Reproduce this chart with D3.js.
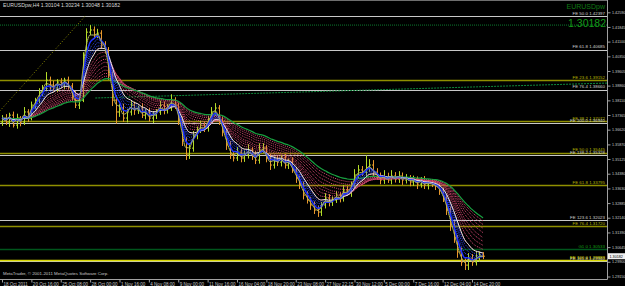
<!DOCTYPE html>
<html>
<head>
<meta charset="utf-8">
<script src="https://cdn.jsdelivr.net/npm/d3@7"></script>
<style>
  html, body { margin: 0; padding: 0; background: #000; }
  svg { display: block; }
  text { font-family: "Liberation Sans", Arial, sans-serif; }
</style>
</head>
<body>
<div id="main"></div>
<script>
const ctx = {
    WIDTH: 625,
    HEIGHT: 286,
    RIGHT: 607.5,
    BOTTOM: 279.5,
};

// EURUSD H4, two bars merged per point (closes)
const closes = [
    1.3721, 1.3701, 1.3736, 1.3685, 1.3721, 1.3701, 1.3752, 1.3721, 1.3787, 1.3812,
    1.3853, 1.3874, 1.3914, 1.3889, 1.3874, 1.3904, 1.3889, 1.3914, 1.3884, 1.3838,
    1.3787, 1.3812, 1.4041, 1.4158, 1.4169, 1.4143, 1.4153, 1.4092, 1.4067, 1.3940,
    1.3812, 1.3752, 1.3772, 1.3721, 1.3752, 1.3787, 1.3762, 1.3772, 1.3736, 1.3752,
    1.3721, 1.3736, 1.3752, 1.3787, 1.3762, 1.3772, 1.3812, 1.3787, 1.3711, 1.3609,
    1.3533, 1.3568, 1.3635, 1.3660, 1.3685, 1.3670, 1.3711, 1.3752, 1.3772, 1.3711,
    1.3650, 1.3584, 1.3533, 1.3518, 1.3548, 1.3518, 1.3533, 1.3558, 1.3533, 1.3507,
    1.3558, 1.3568, 1.3518, 1.3482, 1.3507, 1.3497, 1.3518, 1.3482, 1.3497, 1.3457,
    1.3416, 1.3380, 1.3329, 1.3304, 1.3279, 1.3253, 1.3243, 1.3279, 1.3314, 1.3294,
    1.3304, 1.3329, 1.3314, 1.3355, 1.3345, 1.3380, 1.3431, 1.3457, 1.3446, 1.3467,
    1.3482, 1.3446, 1.3426, 1.3406, 1.3421, 1.3406, 1.3426, 1.3411, 1.3426, 1.3406,
    1.3416, 1.3396, 1.3406, 1.3385, 1.3401, 1.3380, 1.3391, 1.3385, 1.3375, 1.3355,
    1.3314, 1.3253, 1.3177, 1.3111, 1.3040, 1.2989, 1.2973, 1.3009, 1.2989, 1.3009,
    1.3024, 1.30182
];
const firstOpen = 1.3701;

// wick length above / below the body, in pips
const wickUp = [
    15, 20, 12, 18, 22, 10, 25, 14, 18, 12,
    20, 15, 41, 18, 22, 15, 20, 12, 18, 15,
    20, 14, 15, 20, 25, 18, 22, 15, 20, 15,
    18, 25, 20, 22, 15, 20, 18, 12, 25, 15,
    20, 18, 15, 22, 18, 20, 30, 15, 12, 18,
    15, 25, 20, 18, 22, 15, 20, 25, 25, 15,
    18, 12, 20, 15, 25, 18, 22, 30, 15, 20,
    35, 25, 15, 20, 18, 22, 15, 20, 18, 25,
    15, 12, 18, 20, 15, 18, 22, 15, 25, 20,
    18, 22, 15, 25, 20, 18, 30, 25, 20, 65,
    30, 25, 20, 18, 35, 22, 30, 20, 25, 18,
    20, 15, 22, 18, 20, 25, 15, 20, 18, 15,
    12, 15, 18, 20, 15, 22, 18, 25, 20, 30,
    18, 15
];
const wickDn = [
    20, 15, 25, 12, 18, 22, 15, 20, 12, 18,
    15, 20, 12, 25, 18, 20, 15, 22, 18, 25,
    15, 20, 10, 12, 15, 18, 15, 20, 18, 25,
    30, 60, 25, 20, 22, 18, 25, 20, 15, 22,
    18, 25, 20, 15, 22, 18, 15, 20, 25, 30,
    25, 20, 18, 22, 15, 20, 18, 15, 20, 25,
    22, 25, 20, 18, 15, 22, 20, 18, 25, 20,
    18, 15, 22, 25, 18, 20, 22, 18, 20, 15,
    25, 20, 22, 18, 25, 20, 25, 20, 18, 22,
    20, 15, 22, 18, 20, 25, 15, 18, 20, 22,
    20, 25, 18, 22, 20, 15, 22, 18, 20, 25,
    18, 22, 20, 25, 18, 20, 22, 15, 20, 25,
    20, 25, 30, 25, 30, 20, 25, 25, 20, 18,
    20, 15
];

const dateIdx = [0, 8, 16, 24, 32, 40, 48, 56, 64, 72, 80, 88, 96, 104, 112, 120, 128];
const dateLabels = [
    "18 Oct 2011", "20 Oct 16:00", "25 Oct 08:00", "28 Oct 00:00", "1 Nov 16:00",
    "4 Nov 08:00", "9 Nov 00:00", "11 Nov 16:00", "16 Nov 04:00", "18 Nov 20:00",
    "23 Nov 08:00", "27 Nov 22:15", "30 Nov 12:00", "5 Dec 00:00", "7 Dec 16:00",
    "12 Dec 04:00", "14 Dec 20:00"
];
const priceTicks = [
    1.4259, 1.41845, 1.411, 1.4035, 1.39605, 1.3886, 1.3811, 1.37365, 1.3662, 1.3587,
    1.35125, 1.3438, 1.3363, 1.32885, 1.3214, 1.3139, 1.30645, 1.299, 1.2915
];

// fibo expansion levels drawn on the chart
const fiboPrices = [1.4240, 1.4069, 1.3915, 1.3866, 1.3707, 1.3694, 1.3545, 1.3533,
    1.3379, 1.3202, 1.3172, 1.3053, 1.2994, 1.2999];
const fiboLabels = ["FE 50.0 1.42397", "FE 61.8 1.40685", "FE 23.6 1.39152", "FE 76.4 1.38660",
    "FE 38.2 1.37072", "FE 100.0 1.36940", "FE 50.0 1.35445", "FE 138.2 1.35328",
    "FE 61.8 1.33795", "FE 123.6 1.32023", "FE 76.4 1.31720", "G1 0 1.30533",
    "FE 161.8 1.29940", "FE 100.0 1.29989"];
const fiboKinds = ["w", "w", "o", "w", "o", "w", "o", "w", "o", "w", "o", "g", "w", "y"];

const greenLevel = 1.4194;
const trendLine = [[25.4, 1.3823], [164.8, 1.3899]];
const feBaseLine = [[-0.6, 1.3757], [22.9, 1.4245]];

// ribbon periods (in merged bars)
const blueRibbon = [2, 3, 4, 5, 6];
const redRibbon = [7, 9, 11, 13, 15, 18, 21, 24, 27];

const kindColor = { w: "#c8c8c8", o: "#8f8f00", g: "#00561c", y: "#d8d800" };
const kindText = { w: "#d0d0d0", o: "#b8b800", g: "#12a012", y: "#e0e000" };

function ema(values, n, seed) {
    const k = 2 / (n + 1);
    let prev = seed;
    return values.map(v => (prev = prev + k * (v - prev)));
}

function createChart() {
    const svg = d3.select("#main").append("svg")
        .attr("width", ctx.WIDTH)
        .attr("height", ctx.HEIGHT)
        .style("background", "#000");

    const x = d3.scaleLinear().domain([0, closes.length - 1]).range([2, 483]);
    const y = d3.scaleLinear().domain([1.2915, 1.4259]).range([276.5, 12.3]);

    const defs = svg.append("defs");
    const clip = defs.append("clipPath").attr("id", "plot");
    clip.append("rect").attr("width", ctx.RIGHT).attr("height", ctx.BOTTOM);

    const plot = svg.append("g").attr("clip-path", "url(#plot)");

    // frame
    svg.append("line").attr("x1", 0).attr("x2", ctx.RIGHT).attr("y1", 0.5).attr("y2", 0.5)
        .attr("stroke", "#6e6e6e");

    // horizontal objects
    plot.append("line")
        .attr("x1", 0).attr("x2", ctx.RIGHT)
        .attr("y1", y(greenLevel)).attr("y2", y(greenLevel))
        .attr("stroke", "#0b7a2e").attr("stroke-dasharray", "1,1");

    plot.selectAll(".fibo").data(fiboPrices).enter().append("line")
        .attr("class", "fibo")
        .attr("x1", 0).attr("x2", ctx.RIGHT)
        .attr("y1", d => Math.round(y(d)) + 0.5).attr("y2", d => Math.round(y(d)) + 0.5)
        .attr("stroke", (d, i) => kindColor[fiboKinds[i]])
        .attr("stroke-width", (d, i) => fiboKinds[i] === "w" ? 1 : 1.6);

    plot.selectAll(".fiboText").data(fiboPrices).enter().append("text")
        .attr("class", "fiboText")
        .attr("x", 605).attr("y", d => y(d) - 1.2)
        .attr("text-anchor", "end")
        .attr("font-size", "4.4px")
        .attr("fill", (d, i) => kindText[fiboKinds[i]])
        .text((d, i) => fiboLabels[i]);

    const seg = d3.line().x(d => x(d[0])).y(d => y(d[1]));
    plot.append("path").attr("d", seg(trendLine))
        .attr("fill", "none").attr("stroke", "#0f8a3c").attr("stroke-dasharray", "2,1");
    plot.append("path").attr("d", seg(feBaseLine))
        .attr("fill", "none").attr("stroke", "#8f8f00").attr("stroke-dasharray", "1,2");

    // bars
    const bars = closes.map((c, i) => {
        const o = i ? closes[i - 1] : firstOpen;
        return {
            i: i, o: o, c: c,
            h: Math.max(o, c) + wickUp[i] / 10000,
            l: Math.min(o, c) - wickDn[i] / 10000
        };
    });
    const bar = plot.selectAll(".bar").data(bars).enter().append("g")
        .attr("class", "bar")
        .attr("stroke", d => d.c >= d.o ? "#b4dc28" : "#e8982c")
        .attr("stroke-width", 1);
    bar.append("line")
        .attr("x1", d => Math.round(x(d.i)) + 0.5).attr("x2", d => Math.round(x(d.i)) + 0.5)
        .attr("y1", d => y(d.h)).attr("y2", d => y(d.l));
    bar.append("line")
        .attr("x1", d => Math.round(x(d.i)) - 1).attr("x2", d => Math.round(x(d.i)))
        .attr("y1", d => y(d.o)).attr("y2", d => y(d.o));
    bar.append("line")
        .attr("x1", d => Math.round(x(d.i)) + 1).attr("x2", d => Math.round(x(d.i)) + 2)
        .attr("y1", d => y(d.c)).attr("y2", d => y(d.c));

    // moving averages
    const seed = closes[0];
    const line = s => d3.line().x((d, i) => x(i)).y(d => y(d)).curve(d3.curveMonotoneX)(s);

    redRibbon.forEach(n => {
        plot.append("path").attr("d", line(ema(closes, n, seed)))
            .attr("fill", "none").attr("stroke", "#d84a74")
            .attr("stroke-width", 1).attr("stroke-dasharray", "1,1");
    });
    plot.append("path").attr("d", line(ema(closes, 30, seed)))
        .attr("fill", "none").attr("stroke", "#18a040").attr("stroke-width", 1.2);

    blueRibbon.forEach(n => {
        plot.append("path").attr("d", line(ema(closes, n, seed)))
            .attr("fill", "none").attr("stroke", "#3048f0")
            .attr("stroke-width", 1).attr("stroke-dasharray", "1,1");
    });
    plot.append("path").attr("d", line(ema(closes, 7, seed)))
        .attr("fill", "none").attr("stroke", "#e6e6e6").attr("stroke-width", 1);
    plot.append("path").attr("d", line(ema(closes, 3, seed)))
        .attr("fill", "none").attr("stroke", "#1e32ff").attr("stroke-width", 1.5);
    plot.append("path").attr("d", line(ema(closes, 2, seed)))
        .attr("fill", "none").attr("stroke", "#e8e820").attr("stroke-width", 0.7);

    // axes
    const yAxis = d3.axisRight(y).tickValues(priceTicks)
        .tickFormat(d3.format(".5f")).tickSize(3).tickPadding(1.5);
    const gy = svg.append("g").attr("transform", `translate(${ctx.RIGHT},0)`).call(yAxis);
    const xAxis = d3.axisBottom(x).tickValues(dateIdx)
        .tickFormat((d, i) => dateLabels[i]).tickSize(3).tickPadding(0.5);
    const gx = svg.append("g").attr("transform", `translate(0,${ctx.BOTTOM})`).call(xAxis);

    [gx, gy].forEach(g => {
        g.select(".domain").remove();
        g.selectAll(".tick line").attr("stroke", "#a0a0a0");
        g.selectAll(".tick text").attr("fill", "#c8c8c8")
            .style("font-family", "Liberation Sans, Arial, sans-serif");
    });
    gx.selectAll(".tick text").style("font-size", "4.5px").attr("text-anchor", "start").attr("dx", "1");
    gy.selectAll(".tick text").style("font-size", "3.7px");

    svg.append("line").attr("x1", ctx.RIGHT).attr("x2", ctx.RIGHT).attr("y1", 0).attr("y2", ctx.BOTTOM)
        .attr("stroke", "#a0a0a0");
    svg.append("line").attr("x1", 0).attr("x2", ctx.RIGHT).attr("y1", ctx.BOTTOM).attr("y2", ctx.BOTTOM)
        .attr("stroke", "#a0a0a0");

    // current price
    const last = closes[closes.length - 1];
    svg.append("rect").attr("x", ctx.RIGHT + 0.5).attr("y", y(last) - 3)
        .attr("width", 17).attr("height", 6).attr("fill", "#f0f0f0");
    svg.append("text").attr("x", ctx.RIGHT + 2).attr("y", y(last) + 1.4)
        .attr("font-size", "3.7px").attr("fill", "#000").text(d3.format(".5f")(last));

    // texts
    svg.append("text").attr("x", 3).attr("y", 7)
        .attr("font-size", "5.2px").attr("fill", "#d8d8d8")
        .text("EURUSDpw,H4  1.30104 1.30234 1.30048 " + d3.format(".5f")(last));
    svg.append("text").attr("x", 605).attr("y", 8.5).attr("text-anchor", "end")
        .attr("font-size", "7px").attr("fill", "#0f7a14").text("EURUSDpw");
    svg.append("text").attr("x", 606).attr("y", 26.5).attr("text-anchor", "end")
        .attr("font-size", "10.5px").attr("fill", "#139a18").text(d3.format(".5f")(last));
    svg.append("text").attr("x", 3).attr("y", 275)
        .attr("font-size", "4.4px").attr("fill", "#c8c8c8")
        .text("MetaTrader, \u00a9 2001-2011 MetaQuotes Software Corp.");
}

createChart();
</script>
</body>
</html>
